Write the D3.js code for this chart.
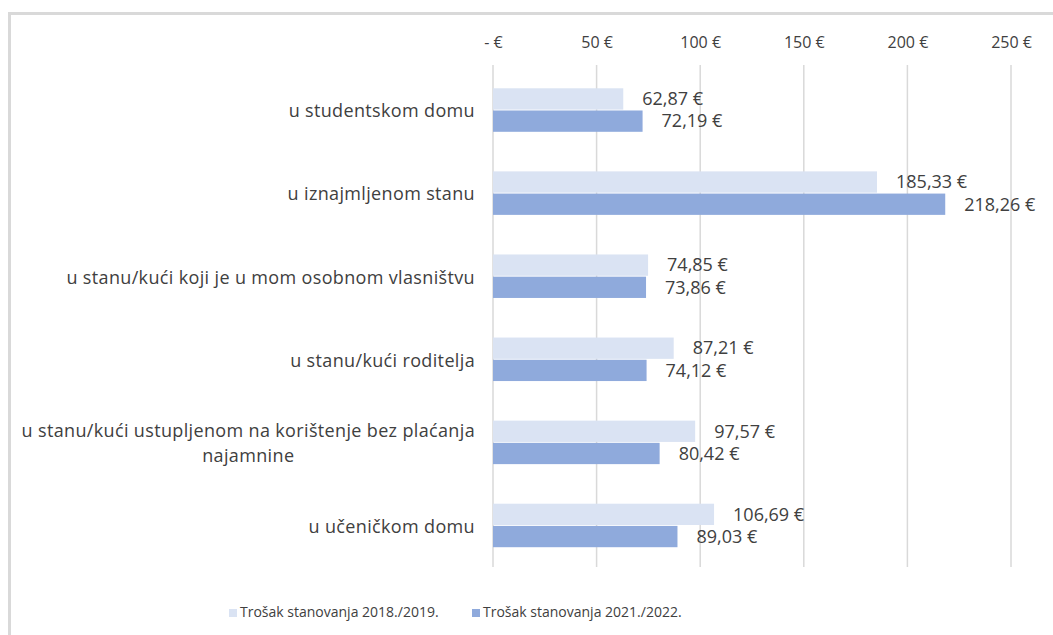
<!DOCTYPE html>
<html>
<head>
<meta charset="utf-8">
<script src="https://cdn.jsdelivr.net/npm/d3@7"></script>
<style>
  body { margin: 0; background: #fff; }
  svg { display: block; font-family: "Open Sans", "Noto Sans", sans-serif; }
</style>
</head>
<body>
<svg id="chart" width="1053" height="635"></svg>
<script>
// data
const categories = [
  ["u studentskom domu"],
  ["u iznajmljenom stanu"],
  ["u stanu/kući koji je u mom osobnom vlasništvu"],
  ["u stanu/kući roditelja"],
  ["u stanu/kući ustupljenom na korištenje bez plaćanja", "najamnine"],
  ["u učeničkom domu"]
];
const cost2019 = [62.87, 185.33, 74.85, 87.21, 97.57, 106.69];
const cost2022 = [72.19, 218.26, 73.86, 74.12, 80.42, 89.03];
const seriesNames = ["Trošak stanovanja 2018./2019.", "Trošak stanovanja 2021./2022."];
const tickValues = [0, 50, 100, 150, 200, 250];

const colors = ["#dae3f3", "#8faadc"];
const textColor = "#404040";

const svg = d3.select("#chart");

// chart frame
svg.append("rect")
    .attr("x", 9.5).attr("y", 13.5)
    .attr("width", 1100).attr("height", 700)
    .attr("fill", "none")
    .attr("stroke", "#d9d9d9")
    .attr("stroke-width", 3);

const x = d3.scaleLinear().domain([0, 250]).range([493, 1011]);
const y = d3.scaleBand().domain(d3.range(categories.length)).range([68.5, 567]);
const inner = d3.scaleBand().domain([0, 1]).range([0, 43.5]).paddingInner(0.04);
const fmt = v => d3.format(",.2f")(v).replace(".", ",") + " €";

// gridlines
svg.append("g")
  .selectAll("line")
  .data(tickValues)
  .join("line")
    .attr("x1", d => x(d)).attr("x2", d => x(d))
    .attr("y1", 65).attr("y2", 567)
    .attr("stroke", "#d9d9d9")
    .attr("stroke-width", 1.5);

// axis at the top
const axis = svg.append("g")
    .attr("transform", "translate(0,48)")
    .call(d3.axisTop(x).tickValues(tickValues).tickSize(0).tickPadding(0)
      .tickFormat(d => d === 0 ? "- €" : d + " €"));
axis.select(".domain").remove();
axis.selectAll("text")
    .attr("fill", textColor)
    .attr("font-size", 16)
    .attr("font-family", "Open Sans, sans-serif");

const series = [cost2019, cost2022];
const groups = svg.append("g")
  .selectAll("g")
  .data(categories)
  .join("g")
    .attr("transform", (d, i) => `translate(0,${y(i) + (y.bandwidth() - 43.5) / 2})`);

groups.each(function(cat, i) {
  const g = d3.select(this);
  series.forEach((s, k) => {
    g.append("rect")
      .attr("x", x(0))
      .attr("y", inner(k))
      .attr("width", x(s[i]) - x(0))
      .attr("height", inner.bandwidth())
      .attr("fill", colors[k]);
    g.append("text")
      .attr("x", x(s[i]) + 19)
      .attr("y", inner(k) + inner.bandwidth() / 2)
      .attr("dy", "0.35em")
      .attr("fill", textColor)
      .attr("font-size", 18)
      .text(fmt(s[i]));
  });
});

// category labels
const labels = svg.append("g")
  .selectAll("text")
  .data(categories)
  .join("text")
    .attr("fill", textColor)
    .attr("font-size", 18)
    .attr("letter-spacing", 0.35)
    .attr("text-anchor", "middle");

labels.each(function(lines, i) {
  const t = d3.select(this);
  const cy = y(i) + y.bandwidth() / 2;
  const lh = 25;
  lines.forEach((line, j) => {
    t.append("tspan")
      .attr("x", 0)
      .attr("y", cy + (j - (lines.length - 1) / 2) * lh + 1)
      .attr("dy", "0.35em")
      .text(line);
  });
});
// right-align each label block at x=475, lines centred within it
labels.each(function() {
  const t = d3.select(this);
  const w = this.getBBox().width;
  t.selectAll("tspan").attr("x", 475 - w / 2);
});

// legend
const legend = svg.append("g").attr("transform", "translate(0,612)");
const legendX = [229, 472];
seriesNames.forEach((name, k) => {
  legend.append("rect")
    .attr("x", legendX[k]).attr("y", -3)
    .attr("width", 8).attr("height", 8)
    .attr("fill", colors[k]);
  legend.append("text")
    .attr("x", legendX[k] + 11)
    .attr("y", 0)
    .attr("dy", "0.35em")
    .attr("fill", textColor)
    .attr("font-size", 14)
    .text(name);
});
</script>
</body>
</html>
